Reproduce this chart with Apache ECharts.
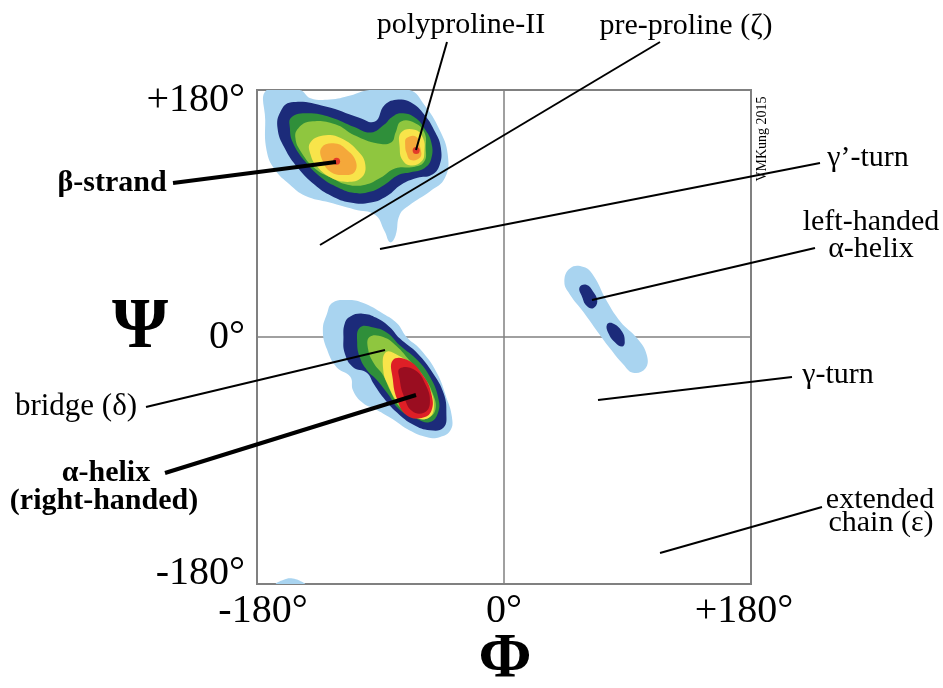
<!DOCTYPE html>
<html><head><meta charset="utf-8">
<script src="https://cdn.jsdelivr.net/npm/echarts@6/dist/echarts.min.js"></script>
<style>html,body{margin:0;padding:0;background:#fff}#c{width:943px;height:688px}</style>
</head><body><div id="c"></div>
<script>
// ---- axis ticks ----
const phiTicks = [-180, 0, 180];
const phiTickLabels = ['-180°', '0°', '+180°'];
const psiTicks = [-180, 0, 180];
const psiTickLabels = ['-180°', '0°', '+180°'];

// ---- contour polygons, [phi, psi] in degrees ----
const betaLightBlue = [[-173,180],[-149,180],[-141,174],[-127,173],[-112,176],[-98,180],[-69,180],[-58,169],[-47,151],[-41,133],[-43,116],[-54,106],[-69,96],[-76,89],[-79,74],[-83,69],[-87,77],[-94,89],[-109,93],[-127,98],[-145,103],[-156,111],[-167,122],[-173,136],[-174,158]];
const betaNavy = [[-163,164],[-155,171],[-130,168],[-106,160],[-94,157],[-87,169],[-77,173],[-68,171],[-58,162],[-50,149],[-46,138],[-47,125],[-53,118],[-63,116],[-75,111],[-85,103],[-97,98],[-112,98],[-126,103],[-138,111],[-150,123],[-160,138],[-165,152]];
const betaDarkGreen = [[-155,160],[-143,163],[-126,160],[-109,153],[-97,149],[-87,155],[-82,160],[-75,163],[-65,160],[-58,152],[-53,142],[-53,130],[-58,123],[-68,120],[-77,118],[-87,111],[-97,106],[-109,105],[-121,109],[-133,116],[-145,128],[-154,142],[-156,152]];
const betaLightGreen = [[-150,152],[-141,157],[-123,155],[-109,147],[-92,141],[-82,142],[-79,149],[-75,157],[-65,156],[-58,149],[-57,138],[-58,128],[-65,124],[-79,123],[-90,116],[-101,111],[-114,111],[-126,116],[-138,123],[-148,135],[-152,145]];
const betaYellow = [[-141,142],[-130,147],[-119,145],[-106,135],[-101,125],[-104,116],[-114,113],[-126,116],[-136,124],[-141,133]];
const ppiiYellow = [[-75,149],[-65,151],[-59,145],[-58,135],[-60,128],[-68,125],[-74,129],[-76,138]];
const betaOrange = [[-133,138],[-123,141],[-114,136],[-108,128],[-109,120],[-116,118],[-126,120],[-132,128]];
const ppiiOrange = [[-71,145],[-64,146],[-61,138],[-61,131],[-68,129],[-71,134],[-72,140]];
const peaks = [[-122,128],[-64,136]];

const alphaLightBlue = [[-125,25],[-114,27],[-103,25],[-88,17],[-78,10],[-71,0],[-61,-9],[-49,-26],[-42,-44],[-38,-58],[-39,-68],[-47,-73],[-56,-73],[-69,-68],[-81,-60],[-93,-53],[-103,-48],[-110,-39],[-112,-29],[-122,-22],[-129,-9],[-132,5],[-129,17]];
const alphaNavy = [[-112,15],[-103,17],[-93,14],[-83,7],[-76,-1],[-63,-12],[-52,-26],[-44,-41],[-42,-55],[-44,-66],[-54,-68],[-66,-64],[-78,-55],[-88,-44],[-95,-34],[-100,-26],[-110,-22],[-116,-12],[-117,0],[-116,10]];
const alphaDarkGreen = [[-105,7],[-95,7],[-85,3],[-76,-6],[-63,-17],[-54,-29],[-48,-44],[-48,-55],[-54,-62],[-63,-60],[-76,-53],[-85,-41],[-93,-31],[-100,-24],[-105,-15],[-107,-4]];
const alphaLightGreen = [[-98,0],[-88,0],[-78,-7],[-69,-17],[-59,-28],[-52,-41],[-50,-53],[-56,-59],[-66,-58],[-76,-51],[-83,-39],[-88,-28],[-95,-19],[-99,-9]];
const alphaYellow = [[-86,-11],[-76,-14],[-64,-23],[-55,-36],[-51,-50],[-55,-59],[-66,-58],[-77,-48],[-84,-36],[-88,-24]];
const alphaRed = [[-81,-17],[-70,-17],[-59,-28],[-53,-41],[-53,-54],[-60,-59],[-71,-57],[-78,-45],[-81,-31]];
const alphaDarkRed = [[-76,-23],[-65,-24],[-57,-35],[-54,-48],[-58,-55],[-67,-54],[-73,-43],[-76,-31]];

const lhLightBlue = [[48,50],[58,51],[65,45],[75,26],[85,11],[97,-1],[104,-13],[103,-23],[94,-26],[87,-20],[77,-8],[68,4],[58,18],[48,31],[44,40]];
const lhNavy1 = [[55,36],[60,38],[65,33],[68,26],[65,21],[60,23],[57,29]];
const lhNavy2 = [[75,9],[79,10],[86,4],[88,-4],[86,-7],[81,-4],[76,3]];
const bottomLightBlue = [[-166,-180],[-161,-177],[-154,-176],[-146,-179],[-145,-180]];

const C = {
  lightBlue: '#a9d4f0', navy: '#1c2b7a', darkGreen: '#2f8f3a', lightGreen: '#8fc63f',
  yellow: '#f8e44a', orange: '#f5a83a', red: '#de1f26', darkRed: '#9a0d20'
};

const layers = [
  [betaLightBlue, C.lightBlue], [alphaLightBlue, C.lightBlue], [lhLightBlue, C.lightBlue], [bottomLightBlue, C.lightBlue],
  [betaNavy, C.navy], [alphaNavy, C.navy], [lhNavy1, C.navy], [lhNavy2, C.navy],
  [betaDarkGreen, C.darkGreen], [alphaDarkGreen, C.darkGreen],
  [betaLightGreen, C.lightGreen], [alphaLightGreen, C.lightGreen],
  [betaYellow, C.yellow], [ppiiYellow, C.yellow], [alphaYellow, C.yellow],
  [betaOrange, C.orange], [ppiiOrange, C.orange],
  [alphaRed, C.red], [alphaDarkRed, C.darkRed]
];

const serif = 'Liberation Serif';
const series = layers.map(([pts, color]) => ({
  type: 'custom', coordinateSystem: 'cartesian2d', clip: true, silent: true,
  data: pts,
  renderItem: (params, api) => {
    if (params.dataIndex !== 0) return null;
    return {
      type: 'polygon',
      shape: { points: pts.map(p => api.coord(p)), smooth: 0.45 },
      style: { fill: color, stroke: null }
    };
  }
}));
series.push({ type: 'scatter', data: peaks, symbolSize: 7, itemStyle: { color: C.red }, silent: true });

const chart = echarts.init(document.getElementById('c'), null, { renderer: 'canvas' });

function txt(x, y, s, size, bold, align) {
  return { type: 'text', x: x, y: y, z: 100, style: { text: s, fill: '#000', font: (bold ? 'bold ' : '') + size + 'px "' + serif + '"', textAlign: align || 'center', textVerticalAlign: 'middle' } };
}
function ln(x1, y1, x2, y2, w) {
  return { type: 'line', z: 100, shape: { x1, y1, x2, y2 }, style: { stroke: '#000', lineWidth: w || 2 } };
}
const FS = 30, TS = 40;

chart.setOption({
  animation: false,
  grid: { left: 257, top: 90, width: 494, height: 494, show: true, borderColor: '#808080', borderWidth: 2, backgroundColor: 'transparent' },
  xAxis: {
    type: 'value', min: -180, max: 180, interval: 180,
    axisLine: { show: false }, axisTick: { show: false },
    splitLine: { show: true, lineStyle: { color: '#808080', width: 1.5 } },
    axisLabel: {
      margin: 7, fontFamily: serif, fontSize: TS, color: '#000',
      formatter: v => {
        const s = phiTickLabels[phiTicks.indexOf(v)];
        if (v === -180) return '{l|' + s + '}';
        if (v === 180) return '{r|' + s + '}';
        return '{m|' + s + '}';
      },
      rich: {
        l: { fontFamily: serif, fontSize: TS, color: '#000', padding: [0, 0, 0, 12] },
        r: { fontFamily: serif, fontSize: TS, color: '#000', padding: [0, 14, 0, 0] },
        m: { fontFamily: serif, fontSize: TS, color: '#000' }
      }
    }
  },
  yAxis: {
    type: 'value', min: -180, max: 180, interval: 180,
    axisLine: { show: false }, axisTick: { show: false },
    splitLine: { show: true, lineStyle: { color: '#808080', width: 1.5 } },
    axisLabel: {
      margin: 12, fontFamily: serif, fontSize: TS, color: '#000',
      formatter: v => {
        const s = psiTickLabels[psiTicks.indexOf(v)];
        if (v === 180) return '{t|' + s + '}';
        if (v === -180) return '{b|' + s + '}';
        return '{m|' + s + '}';
      },
      rich: {
        t: { fontFamily: serif, fontSize: TS, color: '#000', padding: [20, 0, 0, 0] },
        b: { fontFamily: serif, fontSize: TS, color: '#000', padding: [0, 0, 22, 0] },
        m: { fontFamily: serif, fontSize: TS, color: '#000' }
      }
    }
  },
  series: series,
  graphic: [
    txt(140, 328, 'Ψ', 72, true),
    txt(505, 660, 'Φ', 64, true),
    txt(461, 25, 'polyproline-II', FS),
    ln(447, 42, 416, 150),
    txt(686, 26, 'pre-proline (ζ)', FS),
    ln(660, 42, 320, 245),
    txt(868, 158, 'γ’-turn', FS),
    ln(380, 249, 820, 163),
    txt(871, 222, 'left-handed', FS),
    txt(871, 249, 'α-helix', FS),
    ln(592, 300, 815, 248),
    txt(838, 375, 'γ-turn', FS),
    ln(598, 400, 792, 377),
    txt(880, 500, 'extended', FS),
    txt(881, 523, 'chain (ε)', FS),
    ln(660, 553, 822, 507),
    txt(76, 407, 'bridge (δ)', 31),
    ln(146, 407, 385, 350),
    txt(112, 183, 'β-strand', FS, true),
    ln(173, 183, 336, 162, 4),
    txt(106, 473, 'α-helix', FS, true),
    txt(104, 501, '(right-handed)', FS, true),
    ln(165, 473, 416, 395, 4),
    { type: 'text', x: 762, y: 139, rotation: Math.PI / 2, z: 100,
      style: { text: 'VMKung 2015', fill: '#000', font: '14px "' + serif + '"', textAlign: 'center', textVerticalAlign: 'middle' } }
  ]
});
</script>
</body></html>
